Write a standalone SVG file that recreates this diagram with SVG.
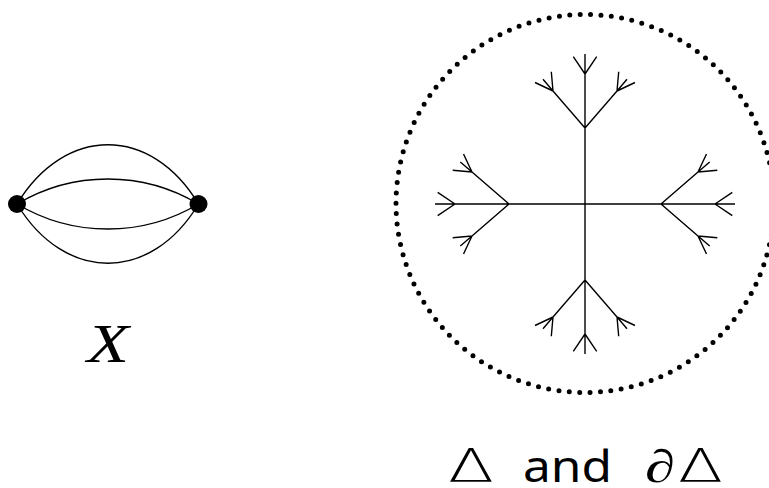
<svg xmlns="http://www.w3.org/2000/svg" xmlns:xlink="http://www.w3.org/1999/xlink" width="769" height="488" viewBox="0 0 769 488">
<style>
.edge{fill:none;stroke:#000;stroke-width:1.4}
.tree{fill:none;stroke:#000;stroke-width:1.4;stroke-linecap:butt}
.vertex{fill:#000}
.dots{fill:none;stroke:#000;stroke-width:5;stroke-linecap:round;stroke-dasharray:0 10.417}
.sans{font-family:"Noto Sans","DejaVu Sans",sans-serif;font-size:43px;fill:#000}
.delta{font-family:"DejaVu Sans","Noto Sans",sans-serif;font-weight:200;font-size:46px;fill:#000}
.serif-it{font-family:"Liberation Serif","DejaVu Serif",serif;font-style:italic;fill:#000}
</style>
<defs>
<path id="arm" class="tree" d="M585,204 V54 M585,74 L573.3,56.7 M585,74 L596.7,56.7 M585,128 L553,91 M585,128 L617,91 M553,91 L535,82.5 M553,91 L543,79.3 M553,91 L551.3,71.7 M617,91 L635,82.5 M617,91 L627,79.3 M617,91 L618.7,71.7"/>
</defs>
<rect width="769" height="488" fill="#fff"/>
<g id="connectors">
<path class="edge" d="M17,204 C65,125 151,125 198.5,204"/>
<path class="edge" d="M17,204 A177 177 0 0 1 198.5,204"/>
<path class="edge" d="M17,204 A177 177 0 0 0 198.5,204"/>
<path class="edge" d="M17,204 C65,283 151,283 198.5,204"/>
</g>
<g id="node-left"><circle class="vertex" cx="17" cy="204" r="9"/></g>
<g id="node-right"><circle class="vertex" cx="198.5" cy="204" r="9"/></g>
<g id="label-X"><text class="serif-it" x="87" y="362" font-size="55" textLength="42" lengthAdjust="spacingAndGlyphs">X</text></g>
<g id="boundary"><circle class="dots" cx="585" cy="203.5" r="189"/></g>
<g id="tree">
<use xlink:href="#arm"/>
<use xlink:href="#arm" transform="rotate(90 585 204)"/>
<use xlink:href="#arm" transform="rotate(180 585 204)"/>
<use xlink:href="#arm" transform="rotate(270 585 204)"/>
</g>
<g id="label-delta">
<text class="delta" x="448" y="482" textLength="46" lengthAdjust="spacingAndGlyphs">Δ</text>
<text class="sans" x="523" y="482" textLength="89" lengthAdjust="spacingAndGlyphs">and</text>
<text class="serif-it" x="645" y="482" font-size="46" textLength="30" lengthAdjust="spacingAndGlyphs">∂</text>
<text class="delta" x="678" y="482" textLength="45" lengthAdjust="spacingAndGlyphs">Δ</text>
</g>
</svg>
